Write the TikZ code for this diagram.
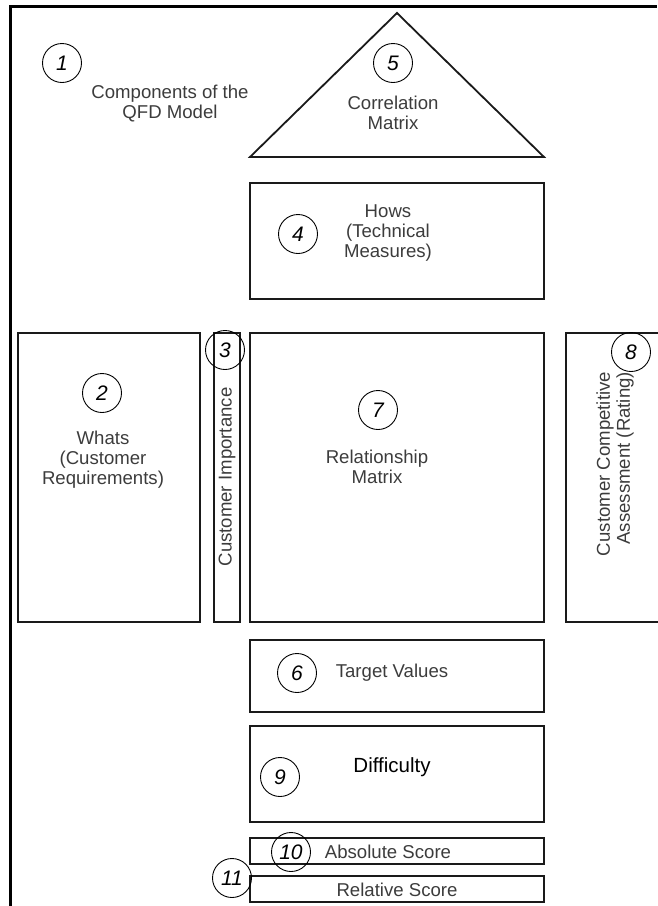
\documentclass[tikz,border=0pt]{standalone}
\usepackage{fontspec}
\setmainfont{Liberation Sans}
\usetikzlibrary{positioning,calc}
\definecolor{qfdink}{HTML}{1A1A1A}
\definecolor{qfdtext}{HTML}{3C3C3C}

\begin{document}
\begin{tikzpicture}[
  x=1pt,y=-1pt,
  font=\fontsize{18.6}{20}\selectfont,
  node distance=14pt,
  part/.style={draw=qfdink,line width=1.8pt,inner sep=0pt,outer sep=0pt},
  num/.style={draw=black,circle,line width=0.9pt,minimum size=39pt,inner sep=0pt,
              font=\fontsize{21}{22}\selectfont\itshape},
  lbl/.style={text=qfdtext,align=center,inner sep=0pt}
]
\useasboundingbox (0,0) rectangle (657,906);
\draw[line width=3pt] (10,906) -- (10,6) -- (657,6);

% house parts
\node[part,minimum width=294pt,minimum height=289pt] (rm) at (397,477.5) {};
\node[part,minimum width=294pt,minimum height=116pt,above=34pt of rm] (hows) {};
\node[part,minimum width=26pt,minimum height=289pt,left=10pt of rm] (ci) {};
\node[part,minimum width=182pt,minimum height=289pt,left=14pt of ci] (whats) {};
\node[part,minimum width=110pt,minimum height=289pt,right=22pt of rm] (cca) {};
\node[part,minimum width=294pt,minimum height=72pt,below=18pt of rm] (tv) {};
\node[part,minimum width=294pt,minimum height=96pt,below=14pt of tv] (diff) {};
\node[part,minimum width=294pt,minimum height=26pt,below=16pt of diff] (abs) {};
\node[part,minimum width=294pt,minimum height=26pt,below=12pt of abs] (rel) {};

% roof
\coordinate[above=26pt of hows.north west] (roofl);
\coordinate[above=26pt of hows.north east] (roofr);
\coordinate (apex) at (397,13);
\draw[part] (roofl) -- (roofr) -- (apex) -- cycle;

% labels and numbers
\node[lbl] (title) at (170,104) {Components of the\\QFD Model};
\node[num] (n1) at (62,63) {1};
\node[num] (n5) at (393,63) {5};
\node[lbl] (corrlbl) at (393,113) {Correlation\\Matrix};
\node[num] (n4) at (298,234) {4};
\node[lbl] (howslbl) at (388,233) {Hows\\(Technical\\Measures)};
\node[num] (n2) at (102,393) {2};
\node[lbl] (whatslbl) at (103,460) {Whats\\(Customer\\Requirements)};
\node[num] (n3) at (225,350) {3};
\node[lbl,rotate=90] (cilbl) at (227,477) {Customer Importance};
\node[num] (n7) at (378,410) {7};
\node[lbl] (rmlbl) at (377,467) {Relationship\\Matrix};
\node[num] (n8) at (631,352) {8};
\node[lbl,rotate=90,align=right] (ccalbl) at (615,464) {Customer Competitive\\Assessment (Rating)};
\node[num] (n6) at (297,673) {6};
\node[lbl] (tvlbl) at (392,673) {Target Values};
\node[num] (n9) at (280,777) {9};
\node[lbl,text=black,font=\fontsize{20.5}{22}\selectfont] (difflbl) at (392,767) {Difficulty};
\node[num] (n10) at (291,852) {10};
\node[lbl] (abslbl) at (388,852) {Absolute Score};
\node[num] (n11) at (232,878) {11};
\node[lbl] (rellbl) at (397,890) {Relative Score};
\end{tikzpicture}
\end{document}
